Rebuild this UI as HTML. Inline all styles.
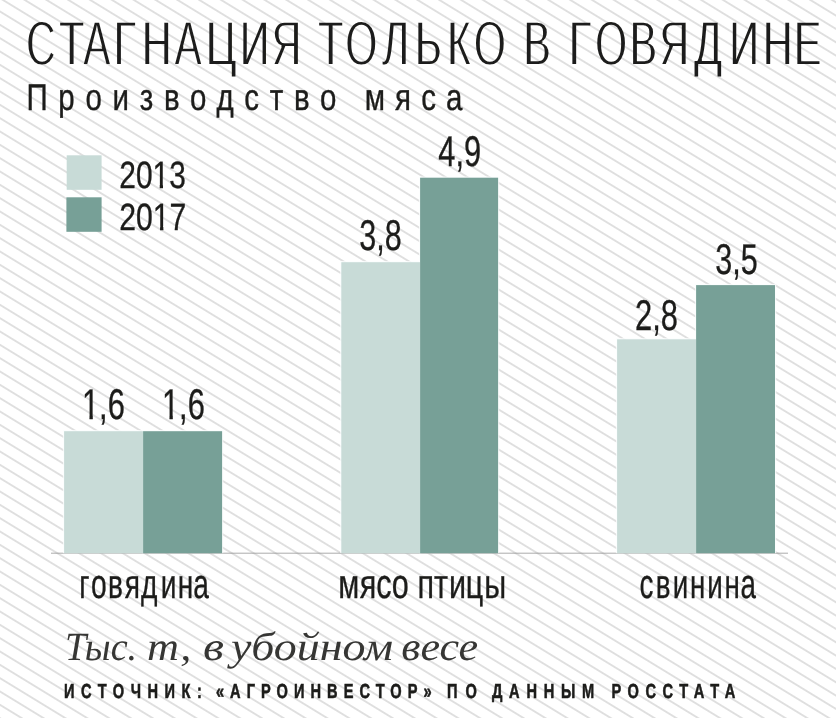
<!DOCTYPE html>
<html lang="ru"><head><meta charset="utf-8"><title>Стагнация только в говядине</title>
<style>
html,body{margin:0;padding:0;background:#fff}
svg{display:block}
text{white-space:pre;text-rendering:geometricPrecision}
</style></head><body>
<svg width="836" height="718" viewBox="0 0 836 718">
<defs>
<pattern id="st" patternUnits="userSpaceOnUse" width="40" height="11.3776" patternTransform="translate(3.0 0) rotate(31.425) translate(0 -5.6888)">
<line x1="-1" y1="5.6888" x2="41" y2="5.6888" stroke="#d5d5d5" stroke-width="1.5"/>
</pattern>
<clipPath id="nofoot0"><path clip-rule="evenodd" d="M-20,-80H400V30H-20Z M193.89,-3.54H203.15V3H193.89Z M207.31,-3.54H214.48V3H207.31Z"/></clipPath>
<clipPath id="nofoot1"><path clip-rule="evenodd" d="M-20,-80H400V30H-20Z M192.58,-3.54H201.84V3H192.58Z M206.00,-3.54H213.16V3H206.00Z"/></clipPath>
<clipPath id="nofoot2"><path clip-rule="evenodd" d="M-20,-80H400V30H-20Z M114.54,-3.91H124.68V3H114.54Z M129.28,-3.91H137.28V3H129.28Z"/></clipPath>
<clipPath id="nofoot3"><path clip-rule="evenodd" d="M-20,-80H400V30H-20Z M226.02,-3.91H236.15V3H226.02Z M240.75,-3.91H248.75V3H240.75Z"/></clipPath>
<filter id="thin" x="0" y="0" width="836" height="90" filterUnits="userSpaceOnUse"><feMorphology operator="erode" radius="0 1"/></filter>
</defs>
<rect width="836" height="718" fill="#fff"/>
<rect width="836" height="718" fill="url(#st)"/>
<line x1="51" y1="553.2" x2="788" y2="553.2" stroke="#969696" stroke-width="0.8"/>
<rect x="62.9" y="430.0" width="81.4" height="123.2" fill="#fbfefe" fill-opacity="0.8"/>
<rect x="141.9" y="430.0" width="81.4" height="123.2" fill="#fbfefe" fill-opacity="0.8"/>
<rect x="340.1" y="261.0" width="81.2" height="292.2" fill="#fbfefe" fill-opacity="0.8"/>
<rect x="418.9" y="176.5" width="80.4" height="376.7" fill="#fbfefe" fill-opacity="0.8"/>
<rect x="615.9" y="338.1" width="81.4" height="215.1" fill="#fbfefe" fill-opacity="0.8"/>
<rect x="694.9" y="283.9" width="81.3" height="269.3" fill="#fbfefe" fill-opacity="0.8"/>
<rect x="64.1" y="431.2" width="79.0" height="122.0" fill="#c8dbd7"/>
<rect x="143.1" y="431.2" width="79.0" height="122.0" fill="#77a097"/>
<rect x="341.3" y="262.2" width="78.8" height="291.0" fill="#c8dbd7"/>
<rect x="420.1" y="177.7" width="78.0" height="375.5" fill="#77a097"/>
<rect x="617.1" y="339.3" width="79.0" height="213.9" fill="#c8dbd7"/>
<rect x="696.1" y="285.1" width="78.9" height="268.1" fill="#77a097"/>
<rect x="66.7" y="155.3" width="34.9" height="34.5" fill="#c8dbd7"/>
<rect x="66.4" y="197.3" width="35.2" height="34.5" fill="#77a097"/>
<g filter="url(#thin)">
<text transform="translate(0 65) scale(0.6472 1)" x="40.76 91.56 128.55 175.92 219.49 269.61 318.23 370.95 419.98 465.48 491.88 533.76 590.68 641.23 691.09 732.37 781.39 808.85 850.88 879.30 919.71 972.86 1019.15 1072.90 1127.09 1178.96 1226.99" style="font-family:'Liberation Sans', sans-serif;font-size:63px;" fill="#1c1c1a">СТАГНАЦИЯ ТОЛЬКО В ГОВЯДИНЕ</text>
</g>
<text transform="translate(0 109.6) scale(0.7900 1)" x="33.42 73.79 108.11 142.42 176.84 207.51 240.48 273.97 309.31 341.54 372.20 405.16 425.91 461.70 500.14 533.13 564.58" style="font-family:'Liberation Sans', sans-serif;font-size:37.3px;" fill="#1c1c1a" stroke="#1c1c1a" stroke-width="0.4" vector-effect="non-scaling-stroke">Производство мяса</text>
<text transform="translate(0 188.4) scale(0.7863 1)" x="151.66 172.82 194.00 215.16" style="font-family:'Liberation Sans', sans-serif;font-size:38px;" fill="#1c1c1a" stroke="#1c1c1a" stroke-width="0.35" vector-effect="non-scaling-stroke" clip-path="url(#nofoot0)">2013</text>
<text transform="translate(0 229.6) scale(0.7930 1)" x="150.36 171.51 192.68 213.84" style="font-family:'Liberation Sans', sans-serif;font-size:38px;" fill="#1c1c1a" stroke="#1c1c1a" stroke-width="0.35" vector-effect="non-scaling-stroke" clip-path="url(#nofoot1)">2017</text>
<text transform="translate(0 418.8) scale(0.7177 1)" x="114.27 138.12 150.01" style="font-family:'Liberation Sans', sans-serif;font-size:43px;" fill="#1c1c1a" stroke="#1c1c1a" stroke-width="0.35" vector-effect="non-scaling-stroke" clip-path="url(#nofoot2)">1,6</text>
<text transform="translate(0 418.8) scale(0.7177 1)" x="225.74 249.59 261.48" style="font-family:'Liberation Sans', sans-serif;font-size:43px;" fill="#1c1c1a" stroke="#1c1c1a" stroke-width="0.35" vector-effect="non-scaling-stroke" clip-path="url(#nofoot3)">1,6</text>
<text transform="translate(0 250.3) scale(0.7101 1)" x="506.07 529.92 541.81" style="font-family:'Liberation Sans', sans-serif;font-size:43px;" fill="#1c1c1a" stroke="#1c1c1a" stroke-width="0.35" vector-effect="non-scaling-stroke">3,8</text>
<text transform="translate(0 165.6) scale(0.7165 1)" x="611.78 635.63 647.54" style="font-family:'Liberation Sans', sans-serif;font-size:43px;" fill="#1c1c1a" stroke="#1c1c1a" stroke-width="0.35" vector-effect="non-scaling-stroke">4,9</text>
<text transform="translate(0 329.5) scale(0.7176 1)" x="885.01 908.85 920.75" style="font-family:'Liberation Sans', sans-serif;font-size:43px;" fill="#1c1c1a" stroke="#1c1c1a" stroke-width="0.35" vector-effect="non-scaling-stroke">2,8</text>
<text transform="translate(0 273.5) scale(0.7106 1)" x="1006.51 1030.39 1042.31" style="font-family:'Liberation Sans', sans-serif;font-size:43px;" fill="#1c1c1a" stroke="#1c1c1a" stroke-width="0.35" vector-effect="non-scaling-stroke">3,5</text>
<text transform="translate(0 597.5) scale(0.6809 1)" x="116.27 133.77 158.79 183.38 207.08 236.16 261.12 283.69" style="font-family:'Liberation Sans', sans-serif;font-size:41.3px;" fill="#1c1c1a" stroke="#1c1c1a" stroke-width="0.35" vector-effect="non-scaling-stroke">говядина</text>
<text transform="translate(0 597.5) scale(0.7394 1)" x="457.54 486.64 508.98 529.77 552.74 564.50 587.05 607.22 629.98 654.78" style="font-family:'Liberation Sans', sans-serif;font-size:41.3px;" fill="#1c1c1a" stroke="#1c1c1a" stroke-width="0.35" vector-effect="non-scaling-stroke">мясо птицы</text>
<text transform="translate(0 597.5) scale(0.6715 1)" x="952.35 976.51 1001.73 1027.56 1053.25 1078.79 1102.73" style="font-family:'Liberation Sans', sans-serif;font-size:41.3px;" fill="#1c1c1a" stroke="#1c1c1a" stroke-width="0.35" vector-effect="non-scaling-stroke">свинина</text>
<text y="660.4" style="font-family:'Liberation Serif', serif;font-size:40px;font-style:italic;" fill="#363634"><tspan x="64.90" textLength="72.29" lengthAdjust="spacingAndGlyphs">Тыс.</tspan> <tspan x="147.08" textLength="44.15" lengthAdjust="spacingAndGlyphs">т,</tspan> <tspan x="203.05" textLength="20.96" lengthAdjust="spacingAndGlyphs">в</tspan> <tspan x="230.98" textLength="162.20" lengthAdjust="spacingAndGlyphs">убойном</tspan> <tspan x="401.28" textLength="76.81" lengthAdjust="spacingAndGlyphs">весе</tspan></text>
<text transform="translate(0 697.5) scale(0.7200 1)" x="89.06 112.65 135.83 156.76 181.57 204.86 228.53 252.15 273.56 280.32 299.83 319.50 342.56 362.47 384.12 408.31 431.29 454.34 477.40 499.32 521.86 542.16 566.33 588.26 599.54 620.99 646.40 662.18 683.28 707.09 731.11 755.13 779.14 808.37 825.27 849.32 871.65 896.50 920.22 943.44 963.62 986.34 1006.52" style="font-family:'Liberation Sans', sans-serif;font-size:20.3px;font-weight:bold;" fill="#1c1c1a" stroke="#1c1c1a" stroke-width="0.6" vector-effect="non-scaling-stroke">ИСТОЧНИК: «АГРОИНВЕСТОР» ПО ДАННЫМ РОССТАТА</text>
</svg>
</body></html>
